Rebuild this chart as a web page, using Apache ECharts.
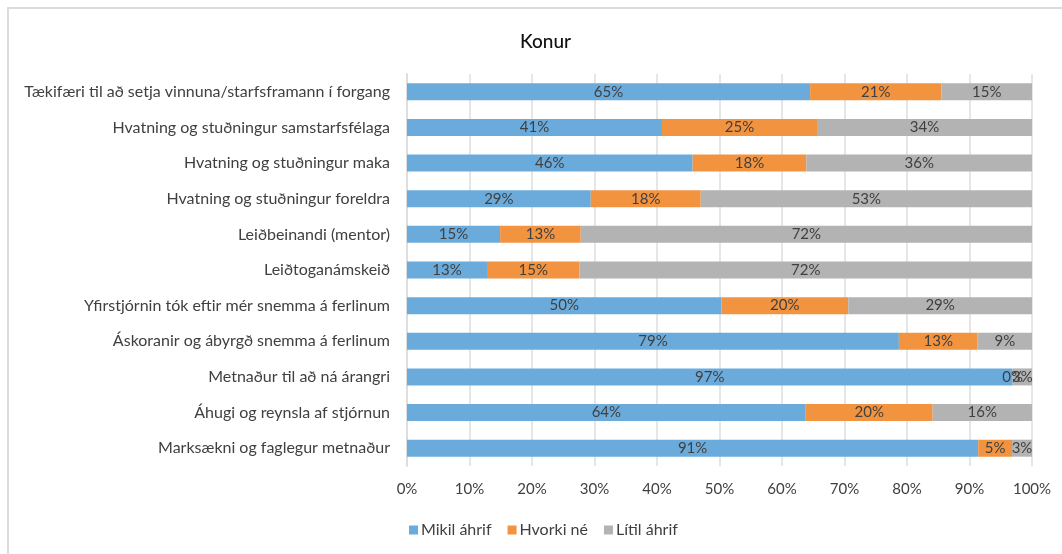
<!DOCTYPE html>
<html>
<head>
<meta charset="utf-8">
<style>
  html, body { margin: 0; padding: 0; background: #fff; }
  #chart { width: 1062px; height: 554px; }
</style>
<script src="https://cdn.jsdelivr.net/npm/echarts@6/dist/echarts.min.js"></script>
</head>
<body>
<div id="chart"></div>
<script>
// flokkar, efst til neðst
const categories = [
    "Tækifæri til að setja vinnuna/starfsframann í forgang",
    "Hvatning og stuðningur samstarfsfélaga",
    "Hvatning og stuðningur maka",
    "Hvatning og stuðningur foreldra",
    "Leiðbeinandi (mentor)",
    "Leiðtoganámskeið",
    "Yfirstjórnin tók eftir mér snemma á ferlinum",
    "Áskoranir og ábyrgð snemma á ferlinum",
    "Metnaður til að ná árangri",
    "Áhugi og reynsla af stjórnun",
    "Marksækni og faglegur metnaður"
];
const seriesNames = ["Mikil áhrif", "Hvorki né", "Lítil áhrif"];
const mikil = [64.5, 40.8, 45.7, 29.4, 14.9, 12.8, 50.3, 78.7, 96.9, 63.8, 91.4];
const hvorki = [21.0, 24.8, 18.2, 17.6, 12.9, 14.8, 20.3, 12.6, 0, 20.3, 5.4];
const litil = [14.5, 34.4, 36.1, 53.0, 72.2, 72.4, 29.4, 8.7, 3.1, 15.9, 3.2];
const xTicks = [0, 10, 20, 30, 40, 50, 60, 70, 80, 90, 100];

const colors = ["#6aabdc", "#f29340", "#b3b3b3"];
const font = "Lato, 'Open Sans', sans-serif";

let myChart = echarts.init(document.getElementById("chart"));

function makeSeries(name, data) {
    return {
        name: name,
        type: "bar",
        stack: "total",
        barWidth: 17,
        data: data,
        label: {
            show: true,
            position: "inside",
            color: "#404040",
            fontFamily: font,
            fontSize: 15,
            formatter: function (p) { return Math.round(p.value) + "%"; }
        },
        itemStyle: { borderWidth: 0 }
    };
}

let option = {
    animation: false,
    color: colors,
    title: {
        text: "Konur",
        left: 515,
        top: 27,
        textStyle: { fontFamily: font, fontSize: 19, fontWeight: 500, color: "#111" }
    },
    // rammi utan um myndina
    graphic: [{
        type: "rect",
        shape: { x: 8, y: 8, width: 1200, height: 700 },
        style: { fill: "none", stroke: "#dcdcdc", lineWidth: 2 },
        silent: true
    }],
    legend: {
        left: 404,
        top: 517,
        itemWidth: 9,
        itemHeight: 9,
        itemGap: 16,
        icon: "rect",
        textStyle: { fontFamily: font, fontSize: 16, color: "#404040", padding: [0, 0, 0, -2] },
        data: seriesNames
    },
    grid: {
        left: 407,
        right: 30,
        top: 74,
        bottom: 88,
        containLabel: false
    },
    xAxis: {
        type: "value",
        min: xTicks[0],
        max: xTicks[xTicks.length - 1],
        interval: 10,
        axisLine: { show: false },
        axisTick: { show: false },
        axisLabel: {
            margin: 16,
            color: "#404040",
            fontFamily: font,
            fontSize: 15,
            formatter: "{value}%"
        },
        splitLine: { lineStyle: { color: "#dedede", width: 1.5 } }
    },
    yAxis: {
        type: "category",
        inverse: true,
        data: categories,
        axisLine: { show: true, lineStyle: { color: "#dedede", width: 2 } },
        axisTick: { show: false },
        axisLabel: {
            margin: 17,
            color: "#404040",
            fontFamily: font,
            fontSize: 16
        }
    },
    series: [
        makeSeries(seriesNames[0], mikil),
        makeSeries(seriesNames[1], hvorki),
        makeSeries(seriesNames[2], litil)
    ]
};

myChart.setOption(option);
window.addEventListener("resize", function () {
    myChart.resize();
});
</script>
</body>
</html>
